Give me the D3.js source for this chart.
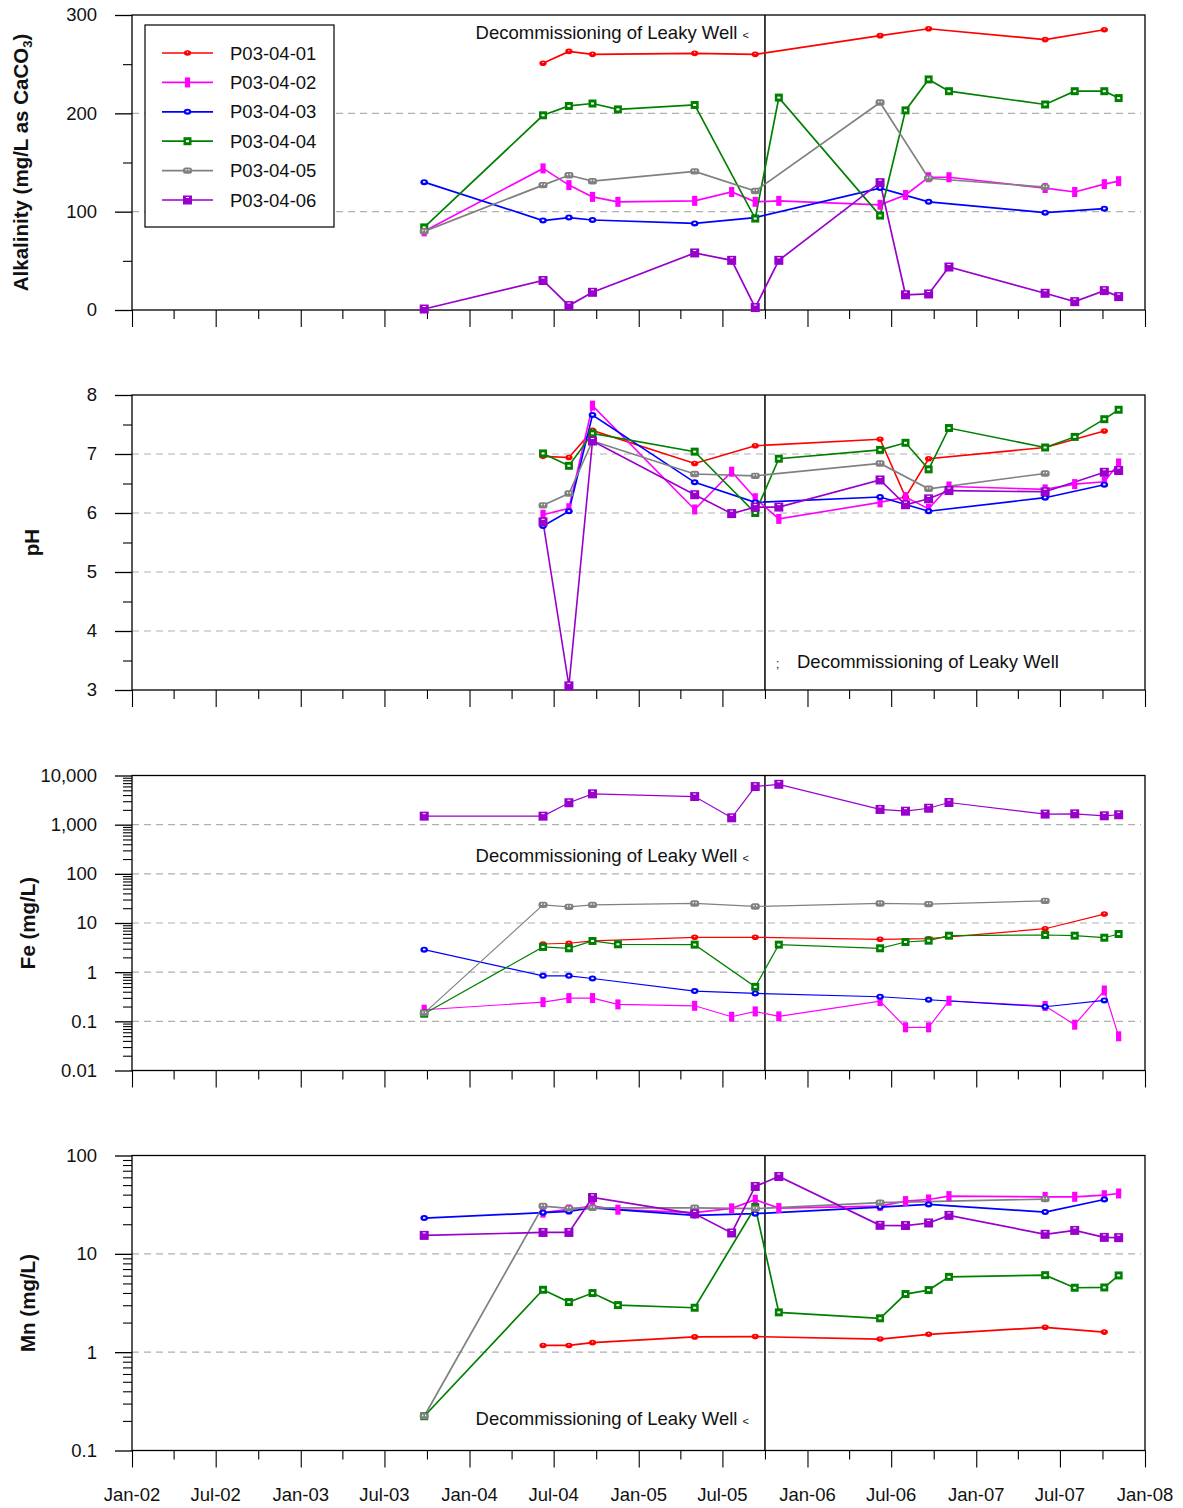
<!DOCTYPE html>
<html><head><meta charset="utf-8">
<script src="https://cdn.jsdelivr.net/npm/d3@7"></script>
<style>body{margin:0;background:#fff}svg{display:block;font-family:"Liberation Sans",Arial,sans-serif}</style>
</head><body><svg id="c" width="1183" height="1508"></svg>
<script>
const dates = ["2003-09-25","2004-06-08","2004-08-03","2004-09-23","2004-11-17","2005-05-02","2005-07-21","2005-09-10","2005-10-31","2006-06-07","2006-08-01","2006-09-20","2006-11-03","2007-05-30","2007-08-02","2007-10-05","2007-11-05"];
const seriesNames = ["P03-04-01","P03-04-02","P03-04-03","P03-04-04","P03-04-05","P03-04-06"];
const xTickLabels = ["Jan-02","Jul-02","Jan-03","Jul-03","Jan-04","Jul-04","Jan-05","Jul-05","Jan-06","Jul-06","Jan-07","Jul-07","Jan-08"];
const decommissionDate = "2005-10-01";

const alkalinity = [
 [null,251,263,260,null,261,null,260,null,279,null,286,null,275,null,285,null],
 [80,144,127,115,110,111,120,110,111,107,117,135,135,124,120,128,131],
 [130,91,94,91.5,null,88,null,94,null,124,null,110,null,99,null,103,null],
 [84,198,207.5,210,204,208.5,null,93,216,96,203,234.5,222.5,209,222.5,222.5,215.5],
 [80,127,137,131,null,141,null,121,null,211,null,134,null,125,null,null,null],
 [1,30,4.5,18,null,58,50.5,2.5,50.5,129.5,15.5,16.3,43.7,17,8.5,19.7,13.6]
];
const pH = [
 [null,6.96,6.94,7.40,null,6.84,null,7.14,null,7.25,6.27,6.92,null,7.11,null,7.39,null],
 [null,5.97,6.08,7.82,null,6.06,6.70,6.25,5.90,6.18,6.27,6.07,6.45,6.40,6.49,6.53,6.84],
 [null,5.78,6.03,7.66,null,6.52,null,6.18,null,6.27,null,6.03,null,6.26,null,6.48,null],
 [null,7.01,6.80,7.35,null,7.04,null,6.00,6.92,7.07,7.19,6.74,7.44,7.11,7.29,7.59,7.75],
 [null,6.13,6.33,7.22,null,6.66,null,6.63,null,6.84,null,6.41,null,6.67,null,null,null],
 [null,5.85,3.07,7.22,null,6.31,5.99,6.10,6.10,6.56,6.14,6.24,6.38,6.36,null,6.69,6.72]
];
const fe = [
 [null,3.74,3.87,4.31,null,5.12,null,5.12,null,4.66,null,4.79,null,7.65,null,15.2,null],
 [0.172,0.246,0.297,0.297,0.221,0.207,0.124,0.159,0.126,0.258,0.0755,0.0755,0.262,0.205,0.0855,0.424,0.0496],
 [2.87,0.841,0.841,0.743,null,0.412,null,0.369,null,0.316,null,0.275,null,0.198,null,0.266,null],
 [0.143,3.26,3.06,4.31,3.69,3.63,null,0.503,3.63,3.06,4.11,4.37,5.52,5.7,5.52,5.02,5.97],
 [0.147,23.4,21.3,23.4,null,25,null,21.7,null,25,null,24.2,null,28.2,null,null,null],
 [1490,1490,2790,4240,null,3730,1380,5960,6620,2040,1880,2160,2820,1640,1660,1515,1590]
];
const mn = [
 [null,1.17,1.17,1.25,null,1.43,null,1.44,null,1.36,null,1.52,null,1.79,null,1.6,null],
 [null,26.2,28.3,30.6,28.1,26.2,29,35.5,29.2,30.6,34.4,35.7,38.6,38,38,39.5,41.1],
 [23.1,26.2,27,29.4,null,24.6,null,25.6,null,29.9,null,31.8,null,26.6,null,35.7,null],
 [0.223,4.31,3.23,3.99,3.01,2.83,null,29.9,2.54,2.21,3.9,4.28,5.83,6.07,4.52,4.55,6.03],
 [0.223,30.6,29,29.4,null,29.4,null,28.8,null,33.1,null,null,null,36,null,null,null],
 [15.4,16.5,16.5,37.4,null,25.5,16.3,48.4,61.1,19.5,19.4,20.6,24.6,15.8,17.3,14.7,14.6]
];
const alkTicks = [0,100,200,300];
const pHTicks = [3,4,5,6,7,8];
const feTicks = [0.01,0.1,1,10,100,1000,10000];
const feTickLabels = ["0.01","0.1","1","10","100","1,000","10,000"];
const mnTicks = [0.1,1,10,100];
const mnTickLabels = ["0.1","1","10","100"];

const colors = ["#ff0000","#ff00ff","#0000ff","#008000","#808080","#9900cc"];
const markerTypes = ["dot","bar","ring","sq","round","block"];

const parse = d3.timeParse("%Y-%m-%d");
const X0 = 132, X1 = 1145, H = 295;
const x = d3.scaleTime().domain([parse("2002-01-01"), parse("2008-01-01")]).range([X0, X1]);
const svg = d3.select("#c");
const FONT = 18.5;

function marker(g, type, color, cx, cy){
  const m = g.append("g").attr("transform", `translate(${cx},${cy})`);
  if(type==="dot"){ m.append("ellipse").attr("rx",3.6).attr("ry",2.8).attr("fill",color);
    m.append("rect").attr("x",-0.6).attr("y",-1.2).attr("width",1.2).attr("height",1).attr("fill","#fff"); }
  else if(type==="bar"){ m.append("rect").attr("x",-2.6).attr("y",-5).attr("width",5.2).attr("height",10).attr("fill",color); }
  else if(type==="ring"){ m.append("ellipse").attr("rx",3.8).attr("ry",3).attr("fill",color);
    m.append("rect").attr("x",-1.2).attr("y",-1).attr("width",2.4).attr("height",1.6).attr("fill","#fff"); }
  else if(type==="sq"){ m.append("rect").attr("x",-4).attr("y",-4).attr("width",8).attr("height",8).attr("fill",color);
    m.append("rect").attr("x",-1.5).attr("y",-1).attr("width",3).attr("height",2).attr("fill","#fff"); }
  else if(type==="round"){ m.append("rect").attr("x",-4.5).attr("y",-3.2).attr("width",9).attr("height",6.4).attr("rx",2.5).attr("fill",color);
    m.append("rect").attr("x",-2).attr("y",-1.5).attr("width",1.2).attr("height",1.5).attr("fill","#fff");
    m.append("rect").attr("x",0.8).attr("y",-1.5).attr("width",1.2).attr("height",1.5).attr("fill","#fff"); }
  else if(type==="block"){ m.append("rect").attr("x",-4.5).attr("y",-4.5).attr("width",9).attr("height",9).attr("fill",color);
    m.append("rect").attr("x",-1.5).attr("y",-3).attr("width",3).attr("height",1).attr("fill","#fff"); }
}

function panel(opts){
  const {top, y, data, ticks, tickLabels, minor, title, lw, note} = opts;
  const g = svg.append("g");
  const bottom = top + H;
  g.selectAll(".grid").data(opts.grid).enter().append("line")
    .attr("x1",X0).attr("x2",X1-4).attr("y1",d=>y(d)).attr("y2",d=>y(d))
    .attr("stroke","#b0b0b0").attr("stroke-width",1.2).attr("stroke-dasharray","7,5");
  g.append("line").attr("x1",x(parse(decommissionDate))).attr("x2",x(parse(decommissionDate)))
    .attr("y1",top).attr("y2",bottom).attr("stroke","#000").attr("stroke-width",1.5);
  g.append("rect").attr("x",X0).attr("y",top).attr("width",X1-X0).attr("height",H)
    .attr("fill","none").attr("stroke","#000").attr("stroke-width",1.3);
  const ya = d3.axisLeft(y).tickValues(ticks).tickSize(17).tickFormat((d,i)=>tickLabels[i]);
  const yg = g.append("g").attr("transform",`translate(${X0},0)`).call(ya);
  yg.select(".domain").remove();
  yg.selectAll("line").attr("stroke","#000").attr("stroke-width",1.3);
  yg.selectAll("text").attr("font-size",FONT).attr("fill","#111").attr("x",-35).attr("font-family",'"Liberation Sans",Arial,sans-serif');
  const ym = d3.axisLeft(y).tickValues(minor).tickSize(9).tickFormat("");
  const ymg = g.append("g").attr("transform",`translate(${X0},0)`).call(ym);
  ymg.select(".domain").remove();
  ymg.selectAll("line").attr("stroke","#000").attr("stroke-width",1.1);
  const q = d3.timeMonth.every(3).range(parse("2002-01-01"), parse("2008-01-02"));
  const xa = d3.axisBottom(x).tickValues(q).tickSizeOuter(0).tickSize(9).tickFormat("");
  const xg = g.append("g").attr("transform",`translate(0,${bottom})`).call(xa);
  xg.select(".domain").remove();
  xg.selectAll(".tick line").attr("stroke","#000").attr("stroke-width",1.1)
    .attr("y2",d=>(d.getMonth()%6===0)?17:9);
  if(opts.labels){
    const lab = d3.timeMonth.every(6).range(parse("2002-01-01"), parse("2008-01-02"));
    g.selectAll(".xl").data(lab).enter().append("text")
      .attr("x",d=>x(d)).attr("y",bottom+50).attr("text-anchor","middle")
      .attr("font-size",FONT).attr("fill","#111").text((d,i)=>xTickLabels[i]);
  }
  const t = g.append("text").attr("transform",`translate(${opts.titleX},${top+H/2}) rotate(-90)`)
    .attr("text-anchor","middle").attr("font-size",20.5).attr("font-weight","bold").attr("fill","#111");
  title(t);
  data.forEach((vals, si)=>{
    const pts = vals.map((v,i)=>({d:parse(dates[i]), v})).filter(p=>p.v!==null);
    const line = d3.line().x(p=>x(p.d)).y(p=>y(p.v));
    g.append("path").attr("d",line(pts)).attr("fill","none").attr("stroke",colors[si]).attr("stroke-width",lw);
  });
  data.forEach((vals, si)=>{
    const pts = vals.map((v,i)=>({d:parse(dates[i]), v})).filter(p=>p.v!==null);
    pts.forEach(p=>marker(g, markerTypes[si], colors[si], x(p.d), y(p.v)));
  });
  note(g);
}

function noteLeft(yc){
  return g=>{
    const t = g.append("text").attr("x",749).attr("y",yc+6.5).attr("text-anchor","end").attr("font-size",FONT).attr("fill","#111");
    t.append("tspan").text("Decommissioning of Leaky Well ");
    t.append("tspan").attr("font-size",11).text("<");
  };
}

const y1 = d3.scaleLinear().domain([0,300]).range([15+H,15]);
panel({top:15, y:y1, data:alkalinity, ticks:alkTicks, tickLabels:alkTicks.map(String),
  minor:[50,150,250], grid:[100,200], lw:1.7, titleX:28,
  title:t=>{t.append("tspan").text("Alkalinity (mg/L as CaCO");t.append("tspan").attr("font-size",13).attr("dy",4).text("3");t.append("tspan").attr("dy",-4).text(")");},
  note:noteLeft(32)});
const y2 = d3.scaleLinear().domain([3,8]).range([395+H,395]);
panel({top:395, y:y2, data:pH, ticks:pHTicks, tickLabels:pHTicks.map(String),
  minor:[3.5,4.5,5.5,6.5,7.5], grid:[4,5,6,7], lw:1.6, titleX:39,
  title:t=>t.text("pH"),
  note:g=>{
    g.append("text").attr("x",776).attr("y",668).attr("font-size",12).attr("fill","#111").text(";");
    g.append("text").attr("x",797).attr("y",668).attr("font-size",FONT).attr("fill","#111").text("Decommissioning of Leaky Well");
  }});
function logMinor(lo, hi){ const r=[]; for(let e=lo;e<hi;e++){ for(let k=2;k<=9;k++) r.push(k*Math.pow(10,e)); } return r; }
const y3 = d3.scaleLog().domain([0.01,10000]).range([775.5+H,775.5]);
panel({top:775.5, y:y3, data:fe, ticks:feTicks, tickLabels:feTickLabels,
  minor:logMinor(-2,4), grid:[0.1,1,10,100,1000], lw:1.2, titleX:35,
  title:t=>t.text("Fe (mg/L)"),
  note:noteLeft(855)});
const y4 = d3.scaleLog().domain([0.1,100]).range([1155.5+H,1155.5]);
panel({top:1155.5, y:y4, data:mn, ticks:mnTicks, tickLabels:mnTickLabels,
  minor:logMinor(-1,2), grid:[1,10], lw:1.7, titleX:35, labels:true,
  title:t=>t.text("Mn (mg/L)"),
  note:noteLeft(1418)});

const lg = svg.append("g");
lg.append("rect").attr("x",145).attr("y",25).attr("width",189).attr("height",202)
  .attr("fill","#fff").attr("stroke","#000").attr("stroke-width",1.2);
seriesNames.forEach((n,i)=>{
  const yy = 53 + i*29.4;
  lg.append("line").attr("x1",162).attr("x2",213).attr("y1",yy).attr("y2",yy).attr("stroke",colors[i]).attr("stroke-width",1.7);
  marker(lg, markerTypes[i], colors[i], 187.5, yy);
  lg.append("text").attr("x",230).attr("y",yy+6.5).attr("font-size",FONT).attr("fill","#111").text(n);
});
</script></body></html>
